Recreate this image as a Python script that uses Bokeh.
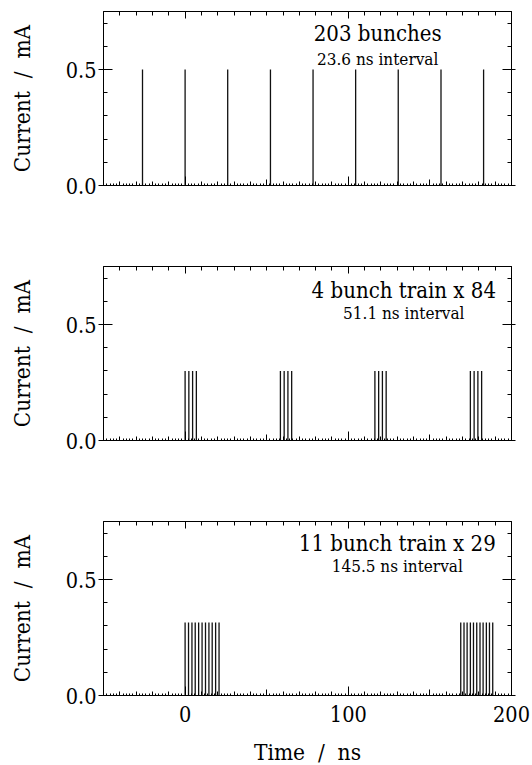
from bokeh.plotting import figure
from bokeh.layouts import column
from bokeh.models import (LinearAxis, FixedTicker, Range1d, ColumnDataSource,
                          Label, PrintfTickFormatter)
from bokeh.embed import file_html
from bokeh.resources import INLINE

# ---------------- data ----------------
X_START, X_END = -50, 200
Y_START, Y_END = 0.0, 0.75

P1_TIMES = [-26.1, 0.0, 26.1, 52.3, 78.4, 104.5, 130.6, 156.8, 182.9]
P1_CURRENT = 0.50

P2_TIMES = [0.0, 2.3, 4.6, 6.9,
            58.4, 60.7, 63.0, 65.3,
            116.3, 118.6, 120.9, 123.2,
            174.8, 177.1, 179.4, 181.7]
P2_CURRENT = 0.30

P3_TIMES = [0.0, 2.1, 4.2, 6.2, 8.3, 10.4, 12.5, 14.6, 16.6, 18.7, 20.8,
            168.9, 170.9, 172.8, 174.8, 176.7, 178.7, 180.7, 182.6, 184.6, 186.5, 188.5]
P3_CURRENT = 0.315

TITLES = ["203 bunches", "4 bunch train x 84", "11 bunch train x 29"]
SUBTITLES = ["23.6 ns interval", "51.1 ns interval", "145.5 ns interval"]

X_MAJOR = [0, 100, 200]
X_MID = [50, 150]
X_MINOR = [-40, -30, -20, -10, 10, 20, 30, 40, 50, 60, 70, 80, 90,
           110, 120, 130, 140, 150, 160, 170, 180, 190]
X_FINE = [t for t in range(-48, 200, 2) if t % 10 != 0]
Y_MAJOR = [0.0, 0.5]
Y_MINOR = [0.1, 0.2, 0.3, 0.4, 0.6, 0.7]

X_LABEL = "Time \u00a0/\u00a0 ns"
Y_LABEL = "Current \u00a0/\u00a0 mA"

FONT = "DejaVu Serif Condensed"


def blank(ticks):
    return {t: "" for t in ticks}


def make_panel(times, current, title, subtitle, tx, ty1, ty2,
               show_x, top_border, bottom_border):
    p = figure(frame_width=408, frame_height=174,
               x_range=Range1d(X_START, X_END), y_range=Range1d(Y_START, Y_END),
               output_backend="svg", toolbar_location=None,
               x_axis_location=None, y_axis_location=None,
               min_border_left=103, min_border_right=21,
               min_border_top=top_border, min_border_bottom=bottom_border,
               background_fill_color="white", border_fill_color="white")
    p.xgrid.grid_line_color = None
    p.ygrid.grid_line_color = None
    p.outline_line_color = "black"
    p.outline_line_width = 1

    src = ColumnDataSource(dict(t=times, base=[0.0] * len(times),
                                cur=[current] * len(times)))
    p.segment(x0="t", y0="base", x1="t", y1="cur", source=src,
              line_color="#111111", line_width=1.3)

    left = LinearAxis(ticker=FixedTicker(ticks=Y_MAJOR, minor_ticks=Y_MINOR),
                      formatter=PrintfTickFormatter(format="%.1f"),
                      major_tick_in=9, major_tick_out=5,
                      minor_tick_in=4, minor_tick_out=0,
                      major_label_standoff=2,
                      major_label_text_font=FONT, major_label_text_font_size="21.5px",
                      major_label_text_color="black",
                      axis_label=Y_LABEL, axis_label_standoff=28,
                      axis_label_text_font=FONT, axis_label_text_font_size="22.5px",
                      axis_label_text_font_style="normal",
                      axis_label_text_color="black",
                      axis_line_color="black", major_tick_line_color="black",
                      minor_tick_line_color="black")
    p.add_layout(left, "left")

    right = LinearAxis(ticker=FixedTicker(ticks=Y_MAJOR, minor_ticks=Y_MINOR),
                       major_label_overrides=blank(Y_MAJOR),
                       major_tick_in=9, major_tick_out=4,
                       minor_tick_in=4, minor_tick_out=0,
                       major_label_standoff=0,
                       axis_line_color="black", major_tick_line_color="black",
                       minor_tick_line_color="black")
    p.add_layout(right, "right")

    top = LinearAxis(ticker=FixedTicker(ticks=X_MAJOR, minor_ticks=X_MINOR),
                     major_label_overrides=blank(X_MAJOR),
                     major_tick_in=7, major_tick_out=0,
                     minor_tick_in=4, minor_tick_out=0,
                     major_label_standoff=0,
                     axis_line_color="black", major_tick_line_color="black",
                     minor_tick_line_color="black")
    p.add_layout(top, "above")

    bottom = LinearAxis(ticker=FixedTicker(ticks=X_MAJOR, minor_ticks=X_MINOR),
                        formatter=PrintfTickFormatter(format="%d"),
                        major_tick_in=9, major_tick_out=0,
                        minor_tick_in=4, minor_tick_out=0,
                        axis_line_color="black", major_tick_line_color="black",
                        minor_tick_line_color="black",
                        major_label_text_color="black",
                        major_label_text_font=FONT)
    if show_x:
        bottom.major_label_text_font_size = "21.5px"
        bottom.major_label_standoff = 10
        bottom.axis_label = X_LABEL
        bottom.axis_label_standoff = 14
        bottom.axis_label_text_font = FONT
        bottom.axis_label_text_font_size = "22.5px"
        bottom.axis_label_text_font_style = "normal"
        bottom.axis_label_text_color = "black"
    else:
        bottom.major_label_overrides = blank(X_MAJOR)
        bottom.major_label_standoff = 0
    p.add_layout(bottom, "below")

    extra = LinearAxis(fixed_location=0,
                       ticker=FixedTicker(ticks=X_MID, minor_ticks=X_FINE),
                       major_label_overrides=blank(X_MID),
                       major_tick_in=6, major_tick_out=0,
                       minor_tick_in=2, minor_tick_out=0,
                       axis_line_color=None, major_tick_line_color="black",
                       minor_tick_line_color="black",
                       major_label_standoff=0)
    p.add_layout(extra, "below")

    p.add_layout(Label(x=tx, y=ty1, text=title, text_align="center",
                       text_baseline="alphabetic", text_font=FONT,
                       text_font_size="22px", text_color="black"))
    p.add_layout(Label(x=tx, y=ty2, text=subtitle, text_align="center",
                       text_baseline="alphabetic", text_font=FONT,
                       text_font_size="17px", text_color="black"))
    return p


p1 = make_panel(P1_TIMES, P1_CURRENT, TITLES[0], SUBTITLES[0],
                118, 0.656, 0.545, False, 11, 40)
p2 = make_panel(P2_TIMES, P2_CURRENT, TITLES[1], SUBTITLES[1],
                134, 0.645, 0.551, False, 41, 40)
p3 = make_panel(P3_TIMES, P3_CURRENT, TITLES[2], SUBTITLES[2],
                130, 0.655, 0.559, True, 41, 70)

layout = column(p1, p2, p3, spacing=0)

with open("out.html", "w") as f:
    f.write(file_html(layout, INLINE))
